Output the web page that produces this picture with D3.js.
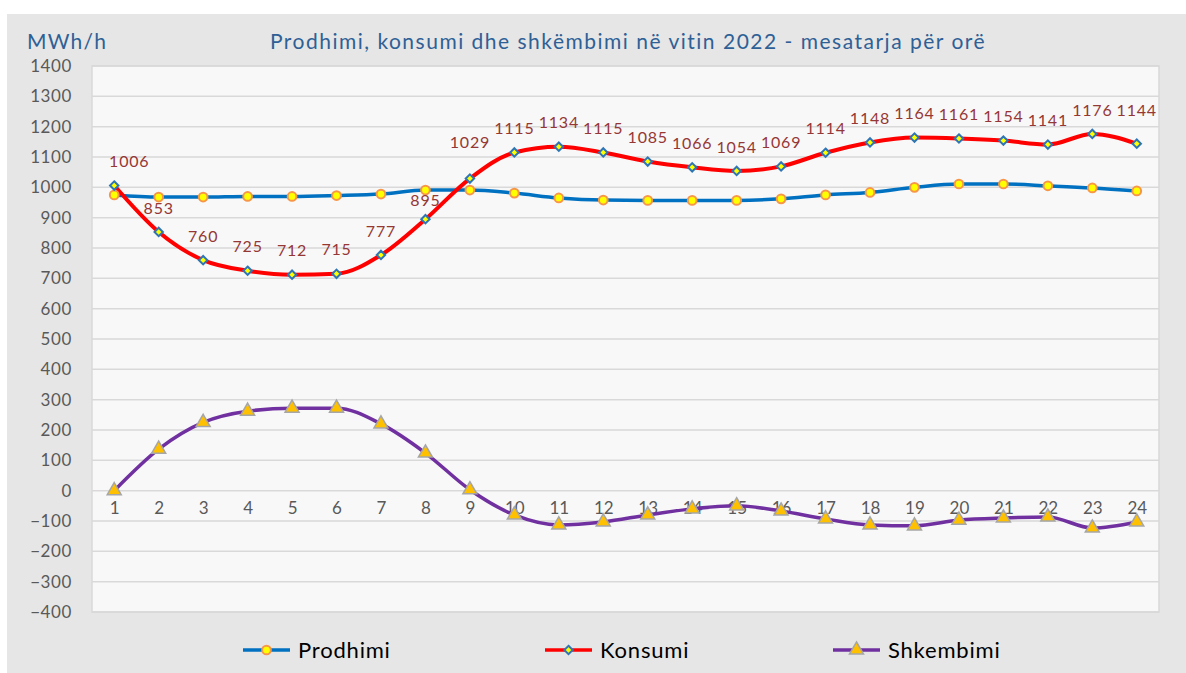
<!DOCTYPE html>
<html>
<head>
<meta charset="utf-8">
<script src="https://cdn.jsdelivr.net/npm/d3@7"></script>
<style>
  body { margin: 0; background: #fff; }
  svg { font-family: Lato, "Open Sans", sans-serif; }
</style>
</head>
<body>
<div id="chart"></div>
<script>
const hours = d3.range(1, 25);
const prodhimi = [975, 968, 968, 970, 970, 973, 978, 991, 991, 981, 965, 958,
                  957, 957, 957, 962, 975, 983, 1000, 1011, 1011, 1005, 998, 988];
const konsumi = [1006, 853, 760, 725, 712, 715, 777, 895, 1029, 1115, 1134, 1115,
                 1085, 1066, 1054, 1069, 1114, 1148, 1164, 1161, 1154, 1141, 1176, 1144];
const shkembimi = [0, 137, 225, 262, 272, 272, 220, 124, 3, -80, -113, -103,
                   -80, -60, -50, -67, -93, -113, -116, -97, -90, -87, -123, -103];
const yTicks = d3.range(-400, 1401, 100);

const width = 1186, height = 673;
const plot = { left: 92, right: 1159, top: 66, bottom: 612 };

const svg = d3.select('#chart')
  .append('svg')
  .attr('width', width)
  .attr('height', height);

// outer gray background
svg.append('rect')
  .attr('x', 7).attr('y', 14)
  .attr('width', width - 7).attr('height', height - 14)
  .attr('fill', '#e6e6e6');

svg.append('rect')
  .attr('x', plot.left).attr('y', plot.top)
  .attr('width', plot.right - plot.left).attr('height', plot.bottom - plot.top)
  .attr('fill', '#f8f8f8')
  .attr('stroke', '#d9d9d9')
  .attr('stroke-width', 1.5);

const x = d3.scalePoint()
  .domain(hours)
  .range([plot.left, plot.right])
  .padding(0.5);

const y = d3.scaleLinear()
  .domain([-400, 1400])
  .range([plot.bottom, plot.top]);

// gridlines
svg.append('g')
  .selectAll('line')
  .data(yTicks)
  .enter()
  .append('line')
  .attr('x1', plot.left).attr('x2', plot.right)
  .attr('y1', d => y(d)).attr('y2', d => y(d))
  .attr('stroke', '#d9d9d9')
  .attr('stroke-width', 1.5);

// y axis labels
const yAxis = svg.append('g')
  .attr('transform', `translate(${plot.left - 20},0)`)
  .call(d3.axisLeft(y).tickValues(yTicks).tickFormat(d3.format('d')).tickSize(0).tickPadding(0));
yAxis.select('.domain').remove();
yAxis.selectAll('text')
  .attr('fill', '#595959')
  .style('font-size', '17px')
  .style('letter-spacing', '0.6px')
  .style('font-family', 'Lato, sans-serif');

// x axis labels below zero line
const xAxis = svg.append('g')
  .attr('transform', `translate(0,${y(0) + 11})`)
  .call(d3.axisBottom(x).tickSize(0).tickPadding(0));
xAxis.select('.domain').remove();
xAxis.selectAll('text')
  .attr('fill', '#595959')
  .style('font-size', '17px')
  .style('font-family', 'Lato, sans-serif');

const line = d3.line()
  .x((d, i) => x(hours[i]))
  .y(d => y(d))
  .curve(d3.curveMonotoneX);

// Prodhimi
svg.append('path')
  .datum(prodhimi)
  .attr('d', line)
  .attr('fill', 'none')
  .attr('stroke', '#0070c0')
  .attr('stroke-width', 3.5);

// Konsumi
svg.append('path')
  .datum(konsumi)
  .attr('d', line)
  .attr('fill', 'none')
  .attr('stroke', '#ff0000')
  .attr('stroke-width', 4);

// Shkembimi
svg.append('path')
  .datum(shkembimi)
  .attr('d', line)
  .attr('fill', 'none')
  .attr('stroke', '#7030a0')
  .attr('stroke-width', 3.5);

const circleSym = d3.symbol().type(d3.symbolCircle).size(60);
const diamondSym = d3.symbol().type(d3.symbolDiamond2).size(45);
const triSym = d3.symbol().type(d3.symbolTriangle).size(85);

svg.append('g')
  .selectAll('path')
  .data(prodhimi)
  .enter()
  .append('path')
  .attr('d', circleSym)
  .attr('transform', (d, i) => `translate(${x(hours[i])},${y(d)})`)
  .attr('fill', '#ffff00')
  .attr('stroke', '#f79646')
  .attr('stroke-width', 2);

svg.append('g')
  .selectAll('path')
  .data(konsumi)
  .enter()
  .append('path')
  .attr('d', diamondSym)
  .attr('transform', (d, i) => `translate(${x(hours[i])},${y(d)})`)
  .attr('fill', '#ffff00')
  .attr('stroke', '#2e75b6')
  .attr('stroke-width', 2);

svg.append('g')
  .selectAll('path')
  .data(shkembimi)
  .enter()
  .append('path')
  .attr('d', triSym)
  .attr('transform', (d, i) => `translate(${x(hours[i])},${y(d)})`)
  .attr('fill', '#ffc000')
  .attr('stroke', '#a6a6a6')
  .attr('stroke-width', 1.5);

// data labels for Konsumi (a few nudged like in the original)
const nudge = { 1: [15, 0], 8: [0, 5], 9: [0, -12], 24: [0, -9] };
svg.append('g')
  .selectAll('text')
  .data(konsumi)
  .enter()
  .append('text')
  .attr('x', (d, i) => x(hours[i]) + (nudge[i + 1] ? nudge[i + 1][0] : 0))
  .attr('y', (d, i) => y(d) - 24 + (nudge[i + 1] ? nudge[i + 1][1] : 0))
  .attr('dy', '0.35em')
  .attr('text-anchor', 'middle')
  .attr('fill', '#953735')
  .style('font-size', '16px')
  .style('letter-spacing', '0.8px')
  .text(d => d);

// title
svg.append('text')
  .attr('x', 628).attr('y', 42)
  .attr('dy', '0.35em')
  .attr('text-anchor', 'middle')
  .attr('fill', '#2e6096')
  .style('font-size', '21px')
  .style('letter-spacing', '1.5px')
  .text('Prodhimi, konsumi dhe shkëmbimi në vitin 2022 - mesatarja për orë');

svg.append('text')
  .attr('x', 27).attr('y', 42)
  .attr('dy', '0.35em')
  .attr('fill', '#2e6096')
  .style('font-size', '21px')
  .style('letter-spacing', '1.2px')
  .text('MWh/h');

// legend
const legendItems = [
  { name: 'Prodhimi', x: 243, color: '#0070c0', sym: circleSym, fill: '#ffff00', stroke: '#f79646', sw: 2 },
  { name: 'Konsumi', x: 545, color: '#ff0000', sym: diamondSym, fill: '#ffff00', stroke: '#2e75b6', sw: 2 },
  { name: 'Shkembimi', x: 833, color: '#7030a0', sym: triSym, fill: '#ffc000', stroke: '#a6a6a6', sw: 1.5 }
];

const legend = svg.append('g')
  .attr('transform', 'translate(0,650)');

const li = legend.selectAll('g')
  .data(legendItems)
  .enter()
  .append('g')
  .attr('transform', d => `translate(${d.x},0)`);

li.append('line')
  .attr('x1', 0).attr('x2', 47)
  .attr('stroke', d => d.color)
  .attr('stroke-width', 3.5);

li.append('path')
  .attr('d', d => d.sym())
  .attr('transform', 'translate(23.5,0)')
  .attr('fill', d => d.fill)
  .attr('stroke', d => d.stroke)
  .attr('stroke-width', d => d.sw);

li.append('text')
  .attr('x', 55)
  .attr('dy', '0.35em')
  .attr('fill', '#000')
  .style('font-size', '22px')
  .style('letter-spacing', '0.8px')
  .text(d => d.name);
</script>
</body>
</html>
